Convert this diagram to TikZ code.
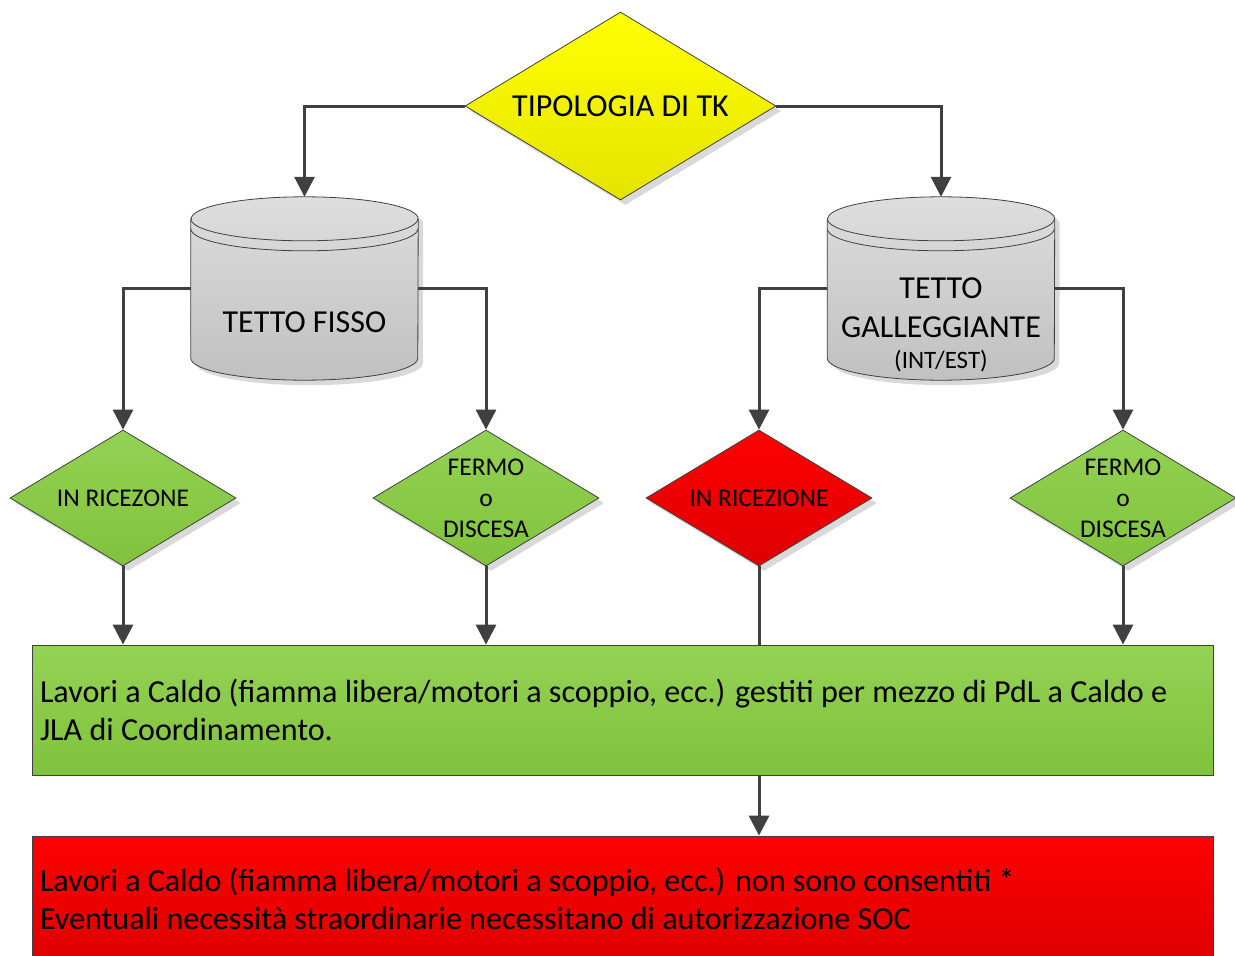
\documentclass[tikz,border=0pt]{standalone}
\usepackage{fontspec}
\setmainfont{Carlito}
\usetikzlibrary{shapes.geometric,arrows.meta,shadows,backgrounds}
\definecolor{linea}{RGB}{64,64,64}
\definecolor{gialloA}{RGB}{255,255,0}
\definecolor{gialloB}{RGB}{228,228,0}
\definecolor{verdeA}{RGB}{148,210,84}
\definecolor{verdeB}{RGB}{128,194,60}
\definecolor{rossoA}{RGB}{255,0,0}
\definecolor{rossoB}{RGB}{222,0,0}
\definecolor{grigioA}{RGB}{222,222,222}
\definecolor{grigioB}{RGB}{192,192,192}

\begin{document}
\begin{tikzpicture}[x=1pt,y=-1pt,
    ombra/.style={drop shadow={shadow xshift=5pt,shadow yshift=-5pt,opacity=.15,fill=black}},
    rombo/.style={diamond,draw=linea,line width=.8pt,ombra,aspect=1.66,inner sep=0pt,
      minimum width=226pt,minimum height=136pt,align=center,font=\fontsize{25.5}{31}\selectfont},
    verde/.style={top color=verdeA,bottom color=verdeB},
    rosso/.style={top color=rossoA,bottom color=rossoB},
    serbatoio/.style={rectangle,inner sep=0pt,minimum width=227pt,minimum height=183pt},
    scritta/.style={font=\fontsize{32}{39}\selectfont,align=center},
    riquadro/.style={rectangle,draw=linea,line width=.8pt,text width=1165pt,align=flush left,
      inner xsep=8pt,font=\fontsize{32.1}{38}\selectfont},
    freccia/.style={draw=linea,line width=3pt,-{Triangle[length=20pt,width=20pt]}}]
  \useasboundingbox (0,0) rectangle (1235,956);

  \node[rombo,top color=gialloA,bottom color=gialloB,minimum width=311pt,minimum height=188pt,
    font=\fontsize{32}{38}\selectfont] (tk) at (620.5,106) {TIPOLOGIA DI TK};

  \node[serbatoio,label={[scritta,yshift=-33.5pt]center:TETTO FISSO}] (fisso) at (304.5,288.5) {};
  \node[serbatoio,label={[scritta,yshift=-36pt]center:TETTO\\GALLEGGIANTE\\[-8pt]{\fontsize{25}{26}\selectfont(INT/EST)}}]
    (galleg) at (941,288.5) {};
  \begin{scope}[on background layer]
  \foreach \s in {fisso,galleg} {
    \path[draw=linea,line width=.8pt,ombra,top color=grigioA,bottom color=grigioB]
      ([yshift=-22pt]\s.north west) -- ([yshift=22pt]\s.south west)
      arc[start angle=180,end angle=0,x radius=113.5,y radius=22]
      -- ([yshift=-22pt]\s.north east)
      arc[start angle=0,end angle=-180,x radius=113.5,y radius=22] -- cycle;
    \draw[linea,line width=.8pt] ([yshift=-22pt]\s.north west) arc[start angle=180,end angle=0,x radius=113.5,y radius=22];
    \draw[linea,line width=.8pt] ([yshift=-32pt]\s.north west) arc[start angle=180,end angle=0,x radius=113.5,y radius=22];
  }
  \end{scope}

  \foreach \x/\s/\t [count=\i] in {123/verde/IN RICEZONE, 486/verde/{FERMO\\o\\DISCESA},
      759/rosso/IN RICEZIONE, 1123/verde/{FERMO\\o\\DISCESA}}
    \node[rombo,\s] (d\i) at (\x,498) {\t};

  \node[riquadro,rosso,minimum height=126pt] (vietato) at (622.5,899)
    {Lavori a Caldo (fiamma libera/motori a scoppio, ecc.) non sono consentiti *\\
     Eventuali necessità straordinarie necessitano di autorizzazione SOC};
  \draw[freccia] (d3.south) -- (d3.south |- vietato.north);
  \node[riquadro,verde,minimum height=130pt] (caldo) at (622.5,710)
    {Lavori a Caldo (fiamma libera/motori a scoppio, ecc.) gestiti per mezzo di PdL a Caldo e\\
     JLA di Coordinamento.};

  \draw[freccia] (tk.west) -| (fisso);
  \draw[freccia] (tk.east) -| (galleg);
  \draw[freccia] (fisso.west) -| (d1);
  \draw[freccia] (fisso.east) -| (d2);
  \draw[freccia] (galleg.west) -| (d3);
  \draw[freccia] (galleg.east) -| (d4);
  \foreach \i in {1,2,4}
    \draw[freccia] (d\i.south) -- (d\i.south |- caldo.north);
\end{tikzpicture}
\end{document}
